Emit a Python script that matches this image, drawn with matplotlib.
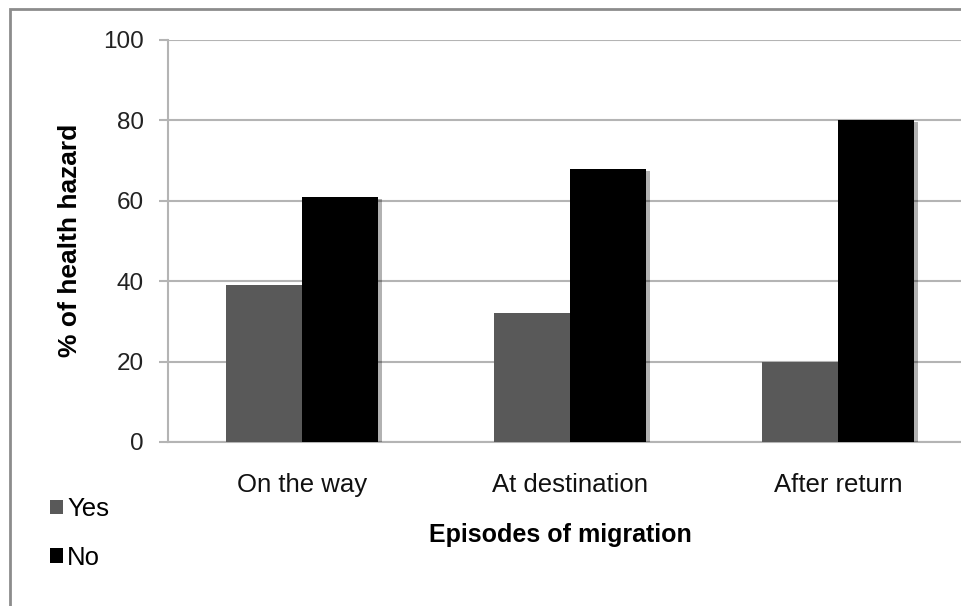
import matplotlib
matplotlib.use('Agg')
import matplotlib.pyplot as plt
import matplotlib.patheffects as pe
from matplotlib.patches import Rectangle, Patch
import numpy as np

plt.rcParams['font.family'] = ['Liberation Sans', 'DejaVu Sans']

categories = ['On the way', 'At destination', 'After return']
yes_values = [39, 32, 20]
no_values = [61, 68, 80]
series_labels = ['Yes', 'No']
series_colors = ['#595959', 'black']
y_ticks = [0, 20, 40, 60, 80, 100]


def plot_bar_chart():
    fig = plt.figure(figsize=(9.61, 6.06), dpi=100)
    ax = fig.add_axes([168 / 961, 1 - 442 / 606, 804 / 961, 402 / 606])

    x = np.arange(len(categories))
    w = 0.284
    shadow = [pe.SimplePatchShadow(offset=(2.5, -1.5), alpha=0.3), pe.Normal()]
    ax.bar(x - w / 2, yes_values, width=w, color=series_colors[0], zorder=3, path_effects=shadow)
    ax.bar(x + w / 2, no_values, width=w, color=series_colors[1], zorder=3, path_effects=shadow)

    ax.set_xlim(-0.5, 2.5)
    ax.set_ylim(0, 100)
    ax.set_yticks(y_ticks)
    ax.set_xticks(x)
    ax.set_xticklabels(categories)
    ax.yaxis.grid(True, color='#b4b4b4', linewidth=1.5, zorder=0)
    ax.set_axisbelow(True)
    for s in ['top', 'right']:
        ax.spines[s].set_visible(False)
    for s in ['left', 'bottom']:
        ax.spines[s].set_color('#b4b4b4')
        ax.spines[s].set_linewidth(1.5)
    ax.tick_params(axis='y', direction='out', length=6.5, width=1.5, color='#b4b4b4',
                   labelsize=17.5, pad=11, labelcolor='#222222')
    ax.tick_params(axis='x', length=0, labelsize=18.5, pad=22, labelcolor='#111111')

    fig.text(560 / 961, 1 - 535 / 606, 'Episodes of migration', ha='center', va='center',
             fontsize=18, fontweight='bold')
    fig.text(70 / 961, 1 - 240 / 606, '% of health hazard', ha='center', va='center',
             rotation=90, fontsize=19, fontweight='bold')

    handles = [Patch(facecolor=c, edgecolor='none') for c in series_colors]
    fig.legend(handles=handles, labels=series_labels, loc='upper left',
               bbox_to_anchor=(40 / 961, 1 - 487 / 606), frameon=False,
               fontsize=18.5, handlelength=0.5, handleheight=0.5, handletextpad=0.15,
               labelspacing=0.95, borderaxespad=0)

    border = Rectangle((10 / 961, -0.05), 1.1, 1 - 8.5 / 606 + 0.05, transform=fig.transFigure,
                       fill=False, edgecolor='#8c8c8c', linewidth=2, clip_on=False)
    fig.patches.append(border)

    fig.savefig('out.png', dpi=100)


def main():
    plot_bar_chart()


if __name__ == "__main__":
    main()
